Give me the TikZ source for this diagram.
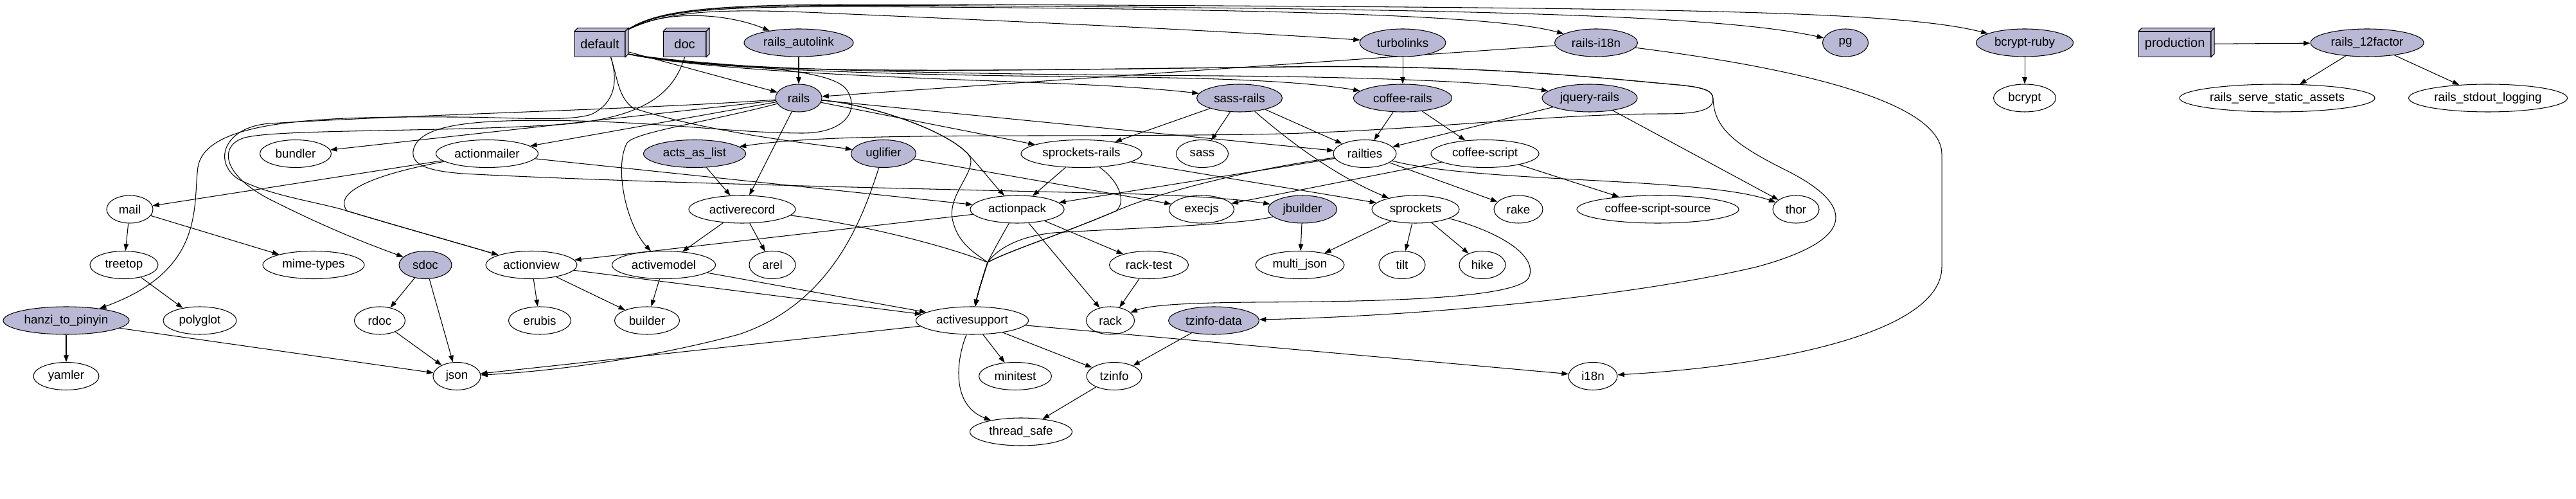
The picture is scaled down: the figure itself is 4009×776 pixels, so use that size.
\documentclass[tikz,border=0pt]{standalone}
\usepackage{fontspec}
\setmainfont{Liberation Sans}
\usetikzlibrary{arrows.meta,shapes.geometric}
\definecolor{grpfill}{RGB}{185,185,214}
\newcommand{\pkgfont}{\fontsize{10.7}{12}\selectfont}
\newcommand{\grpfont}{\fontsize{11.4}{13}\selectfont}
\pgfdeclarelayer{edges}
\pgfsetlayers{edges,main}

\begin{document}
\begin{tikzpicture}[
    x=0.02cm, y=-0.02cm,
    pkg/.style={ellipse, draw, line width=0.6pt, minimum height=0.86cm, minimum width=#1*0.02cm, inner sep=0pt, font=\pkgfont},
    mine/.style={pkg=#1, fill=grpfill},
    group/.style={rectangle, draw, fill=grpfill, line width=0.6pt, minimum width=#1*0.02cm, minimum height=0.78cm, inner sep=0pt, font=\grpfont},
    dep/.style={-{Triangle[length=0.21cm,width=0.15cm]}, line width=0.6pt}
]
\useasboundingbox (0,0) rectangle (4009,776);
\node[group=78] (default) at (933.5,68.7) {default};
\node[group=66] (doc) at (1065.6,68.7) {doc};
\node[group=112] (prod) at (3384.6,68.7) {production};
\node[mine=170] (autolink) at (1243,66.5) {rails\_autolink};
\node[mine=134] (turbo) at (2183,66.5) {turbolinks};
\node[mine=129] (ri18n) at (2484,66.5) {rails-i18n};
\node[mine=71] (pg) at (2872,66.5) {pg};
\node[mine=151] (bcruby) at (3151,66.5) {bcrypt-ruby};
\node[mine=176] (twelve) at (3684,66.5) {rails\_12factor};
\node[mine=72] (rails) at (1243,152.5) {rails};
\node[mine=133] (sassr) at (1929,152.5) {sass-rails};
\node[mine=153] (coffeer) at (2183,152.5) {coffee-rails};
\node[mine=148] (jqueryr) at (2474,152.5) {jquery-rails};
\node[pkg=97] (bcrypt) at (3151,152.5) {bcrypt};
\node[pkg=304] (static) at (3544,152.5) {rails\_serve\_static\_assets};
\node[pkg=247] (stdout) at (3872,152.5) {rails\_stdout\_logging};
\node[pkg=111] (bundler) at (460,239) {bundler};
\node[pkg=159] (mailer) at (758,239) {actionmailer};
\node[mine=159] (acts) at (1081,239) {acts\_as\_list};
\node[mine=101] (uglifier) at (1375,239) {uglifier};
\node[pkg=188] (sprr) at (1683,239) {sprockets-rails};
\node[pkg=81] (sass) at (1871,239) {sass};
\node[pkg=98] (railties) at (2124,239) {railties};
\node[pkg=168] (coffees) at (2311,239) {coffee-script};
\node[pkg=72] (mail) at (202,325.5) {mail};
\node[pkg=166] (record) at (1155,325.5) {activerecord};
\node[pkg=146] (pack) at (1583,325.5) {actionpack};
\node[pkg=101] (execjs) at (1870,325.5) {execjs};
\node[mine=107] (jbuilder) at (2027,325.5) {jbuilder};
\node[pkg=136] (sprockets) at (2203,325.5) {sprockets};
\node[pkg=76] (rake) at (2363,325.5) {rake};
\node[pkg=252] (css) at (2580,325.5) {coffee-script-source};
\node[pkg=72] (thor) at (2795,325.5) {thor};
\node[pkg=106] (treetop) at (193,412) {treetop};
\node[pkg=158] (mime) at (488,412) {mime-types};
\node[mine=82] (sdoc) at (662,412) {sdoc};
\node[pkg=142] (view) at (827,412) {actionview};
\node[pkg=161] (model) at (1033,412) {activemodel};
\node[pkg=72] (arel) at (1202,412) {arel};
\node[pkg=123] (racktest) at (1788,412) {rack-test};
\node[pkg=138] (multijson) at (2023,412) {multi\_json};
\node[pkg=72] (tilt) at (2182,412) {tilt};
\node[pkg=72] (hike) at (2307,412) {hike};
\node[mine=196] (hanzi) at (103,498.5) {hanzi\_to\_pinyin};
\node[pkg=114] (polyglot) at (311,498.5) {polyglot};
\node[pkg=79] (rdoc) at (591,498.5) {rdoc};
\node[pkg=97] (erubis) at (840,498.5) {erubis};
\node[pkg=101] (builder) at (1007,498.5) {builder};
\node[pkg=175] (support) at (1513,498.5) {activesupport};
\node[pkg=75] (rack) at (1728,498.5) {rack};
\node[mine=141] (tzdata) at (1889,498.5) {tzinfo-data};
\node[pkg=102] (yamler) at (103,585) {yamler};
\node[pkg=74] (json) at (711,585) {json};
\node[pkg=113] (minitest) at (1580,585) {minitest};
\node[pkg=86] (tzinfo) at (1734,585) {tzinfo};
\node[pkg=76] (i18n) at (2479,585) {i18n};
\node[pkg=159] (tsafe) at (1589,671.5) {thread\_safe};
\foreach \g in {default,doc,prod} {
  \draw[fill=grpfill, line width=0.6pt] (\g.north west) -- ++(5,-5) -- ([shift={(5,-5)}]\g.north east) -- (\g.north east) -- cycle;
  \draw[fill=grpfill, line width=0.6pt] (\g.north east) -- ++(5,-5) -- ([shift={(5,-5)}]\g.south east) -- (\g.south east) -- cycle;
}
\coordinate (uturn) at (2666,154);
\coordinate (viewjoin) at (540,328);
\coordinate (railsfork) at (1507,240);
\coordinate (join) at (1537,408);
\coordinate (join2) at (1737,328);
\begin{pgfonlayer}{edges}
\fill[white] (0,0) rectangle (4009,776);
\draw[dep] (default.north east) .. controls (1030,14) and (1130,20) .. (autolink);
\draw[dep] (default.north east) .. controls (1040,12) and (1150,14) .. (1300,21) .. controls (1600,34) and (1900,48) .. (turbo);
\draw[dep] (default.north east) .. controls (1030,10) and (1150,9) .. (1450,11) .. controls (2000,15) and (2330,24) .. (ri18n);
\draw[dep] (default.north east) .. controls (1030,8) and (1150,7) .. (1500,9) .. controls (2300,14) and (2680,24) .. (pg);
\draw[dep] (default.north east) .. controls (1030,7) and (1150,6) .. (1500,7) .. controls (2600,12) and (2950,16) .. (bcruby);
\draw[dep] (default) -- (rails);
\draw[dep] (default.-20) .. controls (1100,112) and (1450,122) .. (1650,130) .. controls (1750,134) and (1820,140) .. (sassr);
\draw[dep] (default.-20) .. controls (1100,112) and (1500,118) .. (1750,120) .. controls (1950,122) and (2050,130) .. (coffeer);
\draw[dep] (default.-20) .. controls (1100,112) and (1600,116) .. (1900,118) .. controls (2150,120) and (2330,128) .. (jqueryr);
\draw[dep] (default.-20) .. controls (1150,118) and (1500,110) .. (2000,104) .. controls (2300,100) and (2500,122) .. (2600,131) .. controls (2650,135) and (2666,140) .. (uturn) .. controls (2668,200) and (2700,225) .. (2780,265) .. controls (2880,315) and (2900,370) .. (2734,415) .. controls (2500,470) and (2150,493) .. (tzdata);
\draw[dep] (default.-20) .. controls (1150,118) and (1500,110) .. (2000,104) .. controls (2300,100) and (2500,122) .. (2600,131) .. controls (2650,135) and (2666,140) .. (uturn) .. controls (2666,172) and (2640,177) .. (2590,177) .. controls (2400,177) and (2200,205) .. (1950,209) .. controls (1600,214) and (1300,205) .. (acts);
\draw[dep] (default.-20) .. controls (1100,105) and (1290,100) .. (1318,140) .. controls (1340,175) and (1310,207) .. (1250,207) .. controls (1150,207) and (1050,192) .. (900,188) .. controls (750,185) and (650,190) .. (643,235) .. controls (640,258) and (670,266) .. (720,270) .. controls (1000,285) and (1500,295) .. (1700,300) .. controls (1850,303) and (1930,310) .. (jbuilder);
\draw[dep] ([xshift=0.34cm]default.south) .. controls (962,125) and (962,150) .. (985,168) .. controls (1100,205) and (1250,222) .. (uglifier);
\draw[dep] ([xshift=0.34cm]default.south) .. controls (962,125) and (958,160) .. (920,178) .. controls (880,190) and (800,182) .. (700,182) .. controls (500,181) and (320,186) .. (308,260) .. controls (300,320) and (320,420) .. (hanzi);
\draw[dep] (doc.south) .. controls (1050,140) and (1010,182) .. (880,193) .. controls (700,206) and (420,200) .. (378,215) .. controls (340,228) and (345,275) .. (430,315) .. controls (500,350) and (560,375) .. (sdoc);
\draw[dep] (prod) -- (twelve);
\draw[dep] (twelve) -- (static);
\draw[dep] (twelve) -- (stdout);
\draw[dep] (autolink) -- (rails);
\draw[dep] (turbo) -- (coffeer);
\draw[dep] (ri18n) -- (rails);
\draw[dep] (ri18n) .. controls (2750,100) and (3022,150) .. (3022,240) -- (3022,415) .. controls (3022,520) and (2750,570) .. (i18n);
\draw[dep] (bcruby) -- (bcrypt);
\draw[dep] (rails) -- (bundler);
\draw[dep] (rails) -- (mailer);
\draw[dep] (rails) -- (record);
\draw[dep] (rails) -- (sprr);
\draw[dep] (rails) -- (railties);
\draw[dep] (rails) .. controls (1000,170) and (650,178) .. (420,192) .. controls (350,197) and (330,250) .. (370,278) .. controls (420,305) and (500,315) .. (viewjoin) .. controls (620,352) and (720,380) .. (view);
\draw[dep] (rails) .. controls (1100,190) and (990,205) .. (976,222) .. controls (955,260) and (975,350) .. (model);
\draw[dep] (rails) .. controls (1350,162) and (1470,200) .. (railsfork) .. controls (1530,265) and (1545,285) .. (pack);
\draw[dep] (rails) .. controls (1350,162) and (1470,200) .. (railsfork) .. controls (1525,262) and (1475,300) .. (1482,340) .. controls (1490,380) and (1520,395) .. (join) .. controls (1530,430) and (1522,455) .. (support);
\draw[dep] (sassr) -- (sprr);
\draw[dep] (sassr) -- (sass);
\draw[dep] (sassr) -- (railties);
\draw[dep] (sassr) .. controls (1995,210) and (2070,270) .. (sprockets);
\draw[dep] (coffeer) -- (railties);
\draw[dep] (coffeer) -- (coffees);
\draw[dep] (jqueryr) -- (railties);
\draw[dep] (jqueryr) -- (thor);
\draw[dep] (mailer) -- (mail);
\draw[dep] (mailer) -- (pack);
\draw[dep] (mailer) .. controls (600,268) and (515,295) .. (viewjoin) .. controls (620,352) and (720,380) .. (view);
\draw[dep] (acts) -- (record);
\draw[dep] (uglifier) -- (execjs);
\draw[dep] (uglifier) .. controls (1345,330) and (1300,470) .. (1150,520) .. controls (1000,560) and (850,578) .. (json);
\draw[dep] (sprr) -- (pack);
\draw[dep] (sprr) -- (sprockets);
\draw[dep] (sprr) .. controls (1745,285) and (1752,315) .. (join2) .. controls (1650,365) and (1570,390) .. (join) .. controls (1530,430) and (1522,455) .. (support);
\draw[dep] (railties) -- (pack);
\draw[dep] (railties) -- (rake);
\draw[dep] (railties) .. controls (2300,285) and (2650,275) .. (thor);
\draw[dep] (railties) .. controls (1950,262) and (1800,300) .. (join2) .. controls (1650,365) and (1570,390) .. (join) .. controls (1530,430) and (1522,455) .. (support);
\draw[dep] (coffees) -- (execjs);
\draw[dep] (coffees) -- (css);
\draw[dep] (mail) -- (treetop);
\draw[dep] (mail) -- (mime);
\draw[dep] (treetop) -- (polyglot);
\draw[dep] (record) -- (model);
\draw[dep] (record) -- (arel);
\draw[dep] (record) .. controls (1350,350) and (1480,385) .. (join) .. controls (1530,430) and (1522,455) .. (support);
\draw[dep] (pack) -- (view);
\draw[dep] (pack) -- (racktest);
\draw[dep] (pack) -- (rack);
\draw[dep] (pack) .. controls (1560,365) and (1545,392) .. (join) .. controls (1530,430) and (1522,455) .. (support);
\draw[dep] (jbuilder) -- (multijson);
\draw[dep] (jbuilder) .. controls (1930,350) and (1750,355) .. (1640,362) .. controls (1580,368) and (1550,390) .. (join) .. controls (1530,430) and (1522,455) .. (support);
\draw[dep] (sprockets) -- (multijson);
\draw[dep] (sprockets) -- (tilt);
\draw[dep] (sprockets) -- (hike);
\draw[dep] (sprockets) .. controls (2330,360) and (2392,395) .. (2380,430) .. controls (2368,468) and (2100,469) .. (1950,470) .. controls (1850,471) and (1790,474) .. (rack);
\draw[dep] (sdoc) -- (rdoc);
\draw[dep] (sdoc) -- (json);
\draw[dep] (rdoc) -- (json);
\draw[dep] (view) -- (erubis);
\draw[dep] (view) -- (builder);
\draw[dep] (view) -- (support);
\draw[dep] (model) -- (builder);
\draw[dep] (model) -- (support);
\draw[dep] (racktest) -- (rack);
\draw[dep] (hanzi) -- (yamler);
\draw[dep] (hanzi) -- (json);
\draw[dep] (support) -- (json);
\draw[dep] (support) -- (minitest);
\draw[dep] (support) -- (tzinfo);
\draw[dep] (support) -- (i18n);
\draw[dep] (support) .. controls (1488,560) and (1480,630) .. (tsafe);
\draw[dep] (tzdata) -- (tzinfo);
\draw[dep] (tzinfo) -- (tsafe);
\end{pgfonlayer}
\end{tikzpicture}
\end{document}
